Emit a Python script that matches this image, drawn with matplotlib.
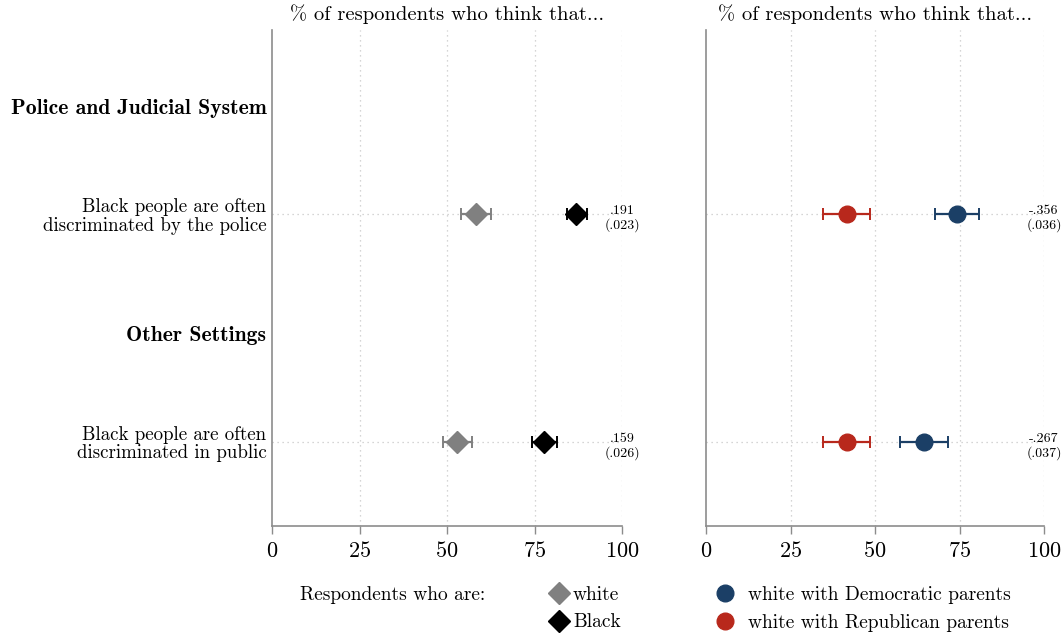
import numpy as np
import matplotlib
matplotlib.use("Agg")
import matplotlib.pyplot as plt
from matplotlib.lines import Line2D

plt.rcParams['font.family'] = ['cmr10', 'DejaVu Serif']
plt.rcParams['axes.formatter.use_mathtext'] = True

# rows, top to bottom
headers = ["Police and Judicial System", "Other Settings"]
items = ["Black people are often\ndiscriminated by the police",
         "Black people are often\ndiscriminated in public"]

# left panel: white vs Black respondents
white_mean = [58.3, 52.9]
white_lo = [53.9, 48.8]
white_hi = [62.5, 57.2]
black_mean = [86.9, 77.7]
black_lo = [84.2, 74.4]
black_hi = [89.9, 81.3]
left_diff = [".191\n(.023)", ".159\n(.026)"]

# right panel: white with Democratic vs Republican parents
dem_mean = [74.2, 64.5]
dem_lo = [67.8, 57.4]
dem_hi = [80.9, 71.7]
rep_mean = [41.6, 41.6]
rep_lo = [34.5, 34.5]
rep_hi = [48.5, 48.5]
right_diff = ["-.356\n(.036)", "-.267\n(.037)"]

head_pos = [1.0, 3.11]
item_pos = [2.0, 4.11]

BLUE = '#1b3f66'
RED = '#b8281c'
GRAY = '#808080'
AXC = '#8c8c8c'

fig = plt.figure(figsize=(10.64, 6.36), dpi=100)
axL = fig.add_axes([272/1064, 1-526/636, 350/1064, 496/636])
axR = fig.add_axes([706/1064, 1-526/636, 338/1064, 496/636])


def style(ax):
    ax.set_xlim(0, 100)
    ax.set_ylim(4.89, 0.296)
    for s in ['top', 'right']:
        ax.spines[s].set_visible(False)
    for s in ['left', 'bottom']:
        ax.spines[s].set_color(AXC)
        ax.spines[s].set_linewidth(1.2)
    ax.set_xticks([0, 25, 50, 75, 100])
    ax.tick_params(axis='x', colors=AXC, labelcolor='black', labelsize=16,
                   length=6, width=1.0, pad=5)
    for xv in [25, 50, 75, 100]:
        ax.axvline(xv, color='#c8c8c8', lw=0.9, ls=(0, (1, 3)), zorder=0)
    for yv in item_pos:
        ax.plot([0, 100], [yv, yv], color='#c8c8c8', lw=0.9, ls=(0, (1, 3)), zorder=0)
    ax.set_title("% of respondents who think that...", fontsize=14.8, pad=7)


def draw(ax, mean, lo, hi, color, marker, ms):
    m = np.array(mean)
    err = [m - np.array(lo), np.array(hi) - m]
    ax.errorbar(m, item_pos, xerr=err, fmt=marker, color=color, ecolor=color,
                ms=ms, elinewidth=1.6, capsize=4, capthick=1.4, zorder=3)


style(axL)
style(axR)

draw(axL, white_mean, white_lo, white_hi, GRAY, 'D', 11)
draw(axL, black_mean, black_lo, black_hi, 'black', 'D', 11)
draw(axR, rep_mean, rep_lo, rep_hi, RED, 'o', 12)
draw(axR, dem_mean, dem_lo, dem_hi, BLUE, 'o', 12)

for ax, labs in [(axL, left_diff), (axR, right_diff)]:
    for yv, t in zip(item_pos, labs):
        ax.text(100, yv + 0.04, t, ha='center', va='center', fontsize=10,
                linespacing=1.1, clip_on=False)

axL.set_yticks(head_pos + item_pos)
axL.set_yticklabels(headers + items, fontsize=13.6, linespacing=1.05)
for lab in axL.get_yticklabels()[:2]:
    lab.set_family(['cmb10', 'DejaVu Serif'])
    lab.set_fontsize(15.6)
axL.tick_params(axis='y', length=0, pad=4)
axR.set_yticks([])

fig.text(300/1064, 1-595/636, "Respondents who are:", fontsize=14,
         ha='left', va='center')

h1 = [Line2D([], [], marker='D', color=GRAY, ls='none', ms=11),
      Line2D([], [], marker='D', color='black', ls='none', ms=11)]
fig.legend(h1, ["white", "Black"], loc='upper left',
           bbox_to_anchor=(540/1064, 1-578/636), frameon=False, fontsize=14,
           handletextpad=0.1, labelspacing=0.5, borderaxespad=0,
           handlelength=1.2)

h2 = [Line2D([], [], marker='o', color=BLUE, ls='none', ms=12),
      Line2D([], [], marker='o', color=RED, ls='none', ms=12)]
fig.legend(h2, ["white with Democratic parents", "white with Republican parents"],
           loc='upper left', bbox_to_anchor=(706/1064, 1-578/636), frameon=False,
           fontsize=14, handletextpad=0.55, labelspacing=0.5, borderaxespad=0,
           handlelength=1.2)

fig.savefig("out.png", dpi=100)
